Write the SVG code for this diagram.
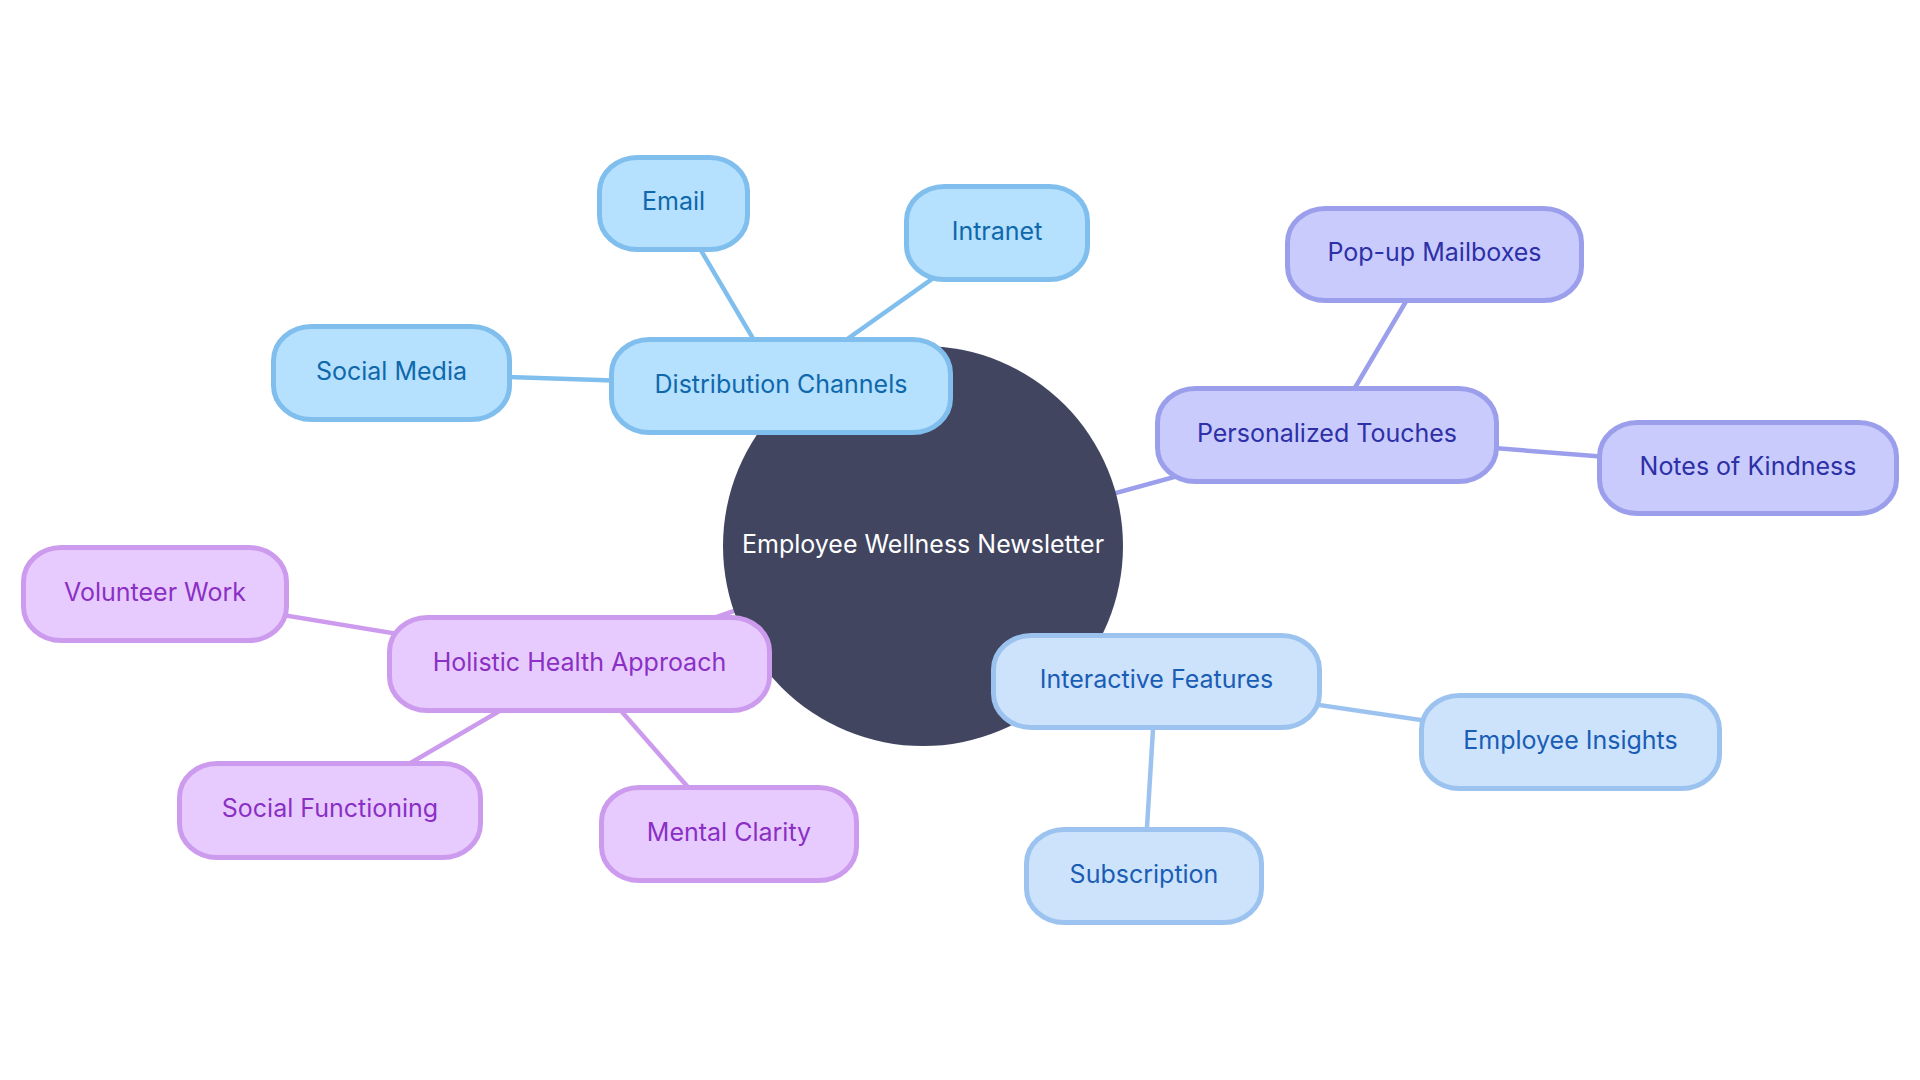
<svg xmlns="http://www.w3.org/2000/svg" width="1920" height="1080" viewBox="0 0 1920 1080">
<style>
.t{font-family:Inter,"Noto Sans","Liberation Sans",sans-serif;font-size:25px;text-anchor:middle;dominant-baseline:central}
.n rect{stroke-width:5}
.c1 rect{fill:#b5e0fe;stroke:#80bfed}.c1 text{fill:#0f68ab}
.c2 rect{fill:#c9cbfd;stroke:#9b9feb}.c2 text{fill:#2d30a6}
.c3 rect{fill:#cde3fb;stroke:#9cc3ef}.c3 text{fill:#1a5db5}
.c4 rect{fill:#e8cbfe;stroke:#cd9bee}.c4 text{fill:#8a30c4}
.e line{stroke-width:4.5;stroke-linecap:round}
.e1{stroke:#80bfed}.e2{stroke:#9b9feb}.e3{stroke:#9cc3ef}.e4{stroke:#cd9bee}
</style>
<rect width="1920" height="1080" fill="#ffffff"/>
<g id="connectors" class="e">
<line class="e1" x1="923" y1="546" x2="781" y2="386"/>
<line class="e1" x1="781" y1="386" x2="673" y2="203"/>
<line class="e1" x1="781" y1="386" x2="997" y2="233"/>
<line class="e1" x1="781" y1="386" x2="391" y2="373"/>
<line class="e2" x1="923" y1="546" x2="1327" y2="435"/>
<line class="e2" x1="1327" y1="435" x2="1434" y2="254"/>
<line class="e2" x1="1327" y1="435" x2="1748" y2="468"/>
<line class="e3" x1="923" y1="546" x2="1156" y2="681"/>
<line class="e3" x1="1156" y1="681" x2="1570" y2="742"/>
<line class="e3" x1="1156" y1="681" x2="1144" y2="876"/>
<line class="e4" x1="923" y1="546" x2="580" y2="664"/>
<line class="e4" x1="580" y1="664" x2="155" y2="594"/>
<line class="e4" x1="580" y1="664" x2="330" y2="810"/>
<line class="e4" x1="580" y1="664" x2="729" y2="834"/>
</g>
<g id="root">
<circle cx="923" cy="546" r="200" fill="#414560"/>
<text class="t" x="923" y="544" fill="#ffffff">Employee Wellness Newsletter</text>
</g>
<g id="distribution" class="n c1"><rect x="611.5" y="339.5" width="339" height="93" rx="38" ry="34"/><text class="t" x="781" y="384">Distribution Channels</text></g>
<g id="email" class="n c1"><rect x="599.5" y="157.5" width="148" height="92" rx="38" ry="34"/><text class="t" x="673.5" y="201">Email</text></g>
<g id="intranet" class="n c1"><rect x="906.5" y="186.5" width="181" height="93" rx="38" ry="34"/><text class="t" x="997" y="231">Intranet</text></g>
<g id="socialmedia" class="n c1"><rect x="273.5" y="326.5" width="236" height="93" rx="38" ry="34"/><text class="t" x="391.5" y="371">Social Media</text></g>
<g id="personalized" class="n c2"><rect x="1157.5" y="388.5" width="339" height="93" rx="38" ry="34"/><text class="t" x="1327" y="433">Personalized Touches</text></g>
<g id="popup" class="n c2"><rect x="1287.5" y="208.5" width="294" height="92" rx="38" ry="34"/><text class="t" x="1434.5" y="252">Pop-up Mailboxes</text></g>
<g id="notes" class="n c2"><rect x="1599.5" y="422.5" width="297" height="91" rx="38" ry="34"/><text class="t" x="1748" y="466">Notes of Kindness</text></g>
<g id="interactive" class="n c3"><rect x="993.5" y="635.5" width="326" height="92" rx="38" ry="34"/><text class="t" x="1156.5" y="679">Interactive Features</text></g>
<g id="insights" class="n c3"><rect x="1421.5" y="695.5" width="298" height="93" rx="38" ry="34"/><text class="t" x="1570.5" y="740">Employee Insights</text></g>
<g id="subscription" class="n c3"><rect x="1026.5" y="829.5" width="235" height="93" rx="38" ry="34"/><text class="t" x="1144" y="874">Subscription</text></g>
<g id="holistic" class="n c4"><rect x="389.5" y="617.5" width="380" height="93" rx="38" ry="34"/><text class="t" x="579.5" y="662">Holistic Health Approach</text></g>
<g id="volunteer" class="n c4"><rect x="23.5" y="547.5" width="263" height="93" rx="38" ry="34"/><text class="t" x="155" y="592">Volunteer Work</text></g>
<g id="socialfunc" class="n c4"><rect x="179.5" y="763.5" width="301" height="94" rx="38" ry="34"/><text class="t" x="330" y="808">Social Functioning</text></g>
<g id="mental" class="n c4"><rect x="601.5" y="787.5" width="255" height="93" rx="38" ry="34"/><text class="t" x="729" y="832">Mental Clarity</text></g>
</svg>
